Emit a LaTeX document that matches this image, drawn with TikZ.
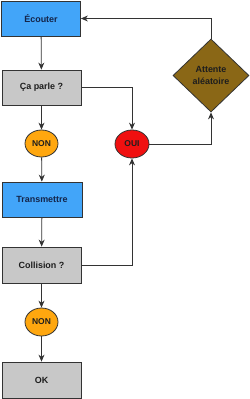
\documentclass[tikz,border=0pt]{standalone}
\usepackage{fontspec}
\setmainfont{Liberation Sans}
\usepackage{xcolor}
\usepackage{tikz}
\usetikzlibrary{arrows.meta,shapes.geometric}
\definecolor{lineC}{HTML}{333333}
\definecolor{boxBlue}{HTML}{42A5F9}
\definecolor{boxGrey}{HTML}{C8C8C8}
\definecolor{ovalOr}{HTML}{FFA70F}
\definecolor{ovalRed}{HTML}{F01010}
\definecolor{waitBr}{HTML}{8A6716}
\definecolor{txtNavy}{HTML}{14254A}
\definecolor{txtDark}{HTML}{1E1E1E}

\begin{document}
\begin{tikzpicture}[x=1bp,y=-1bp,>={Stealth[length=7bp,width=6bp]},
  box/.style={draw=lineC,line width=0.8bp,rectangle,inner sep=0pt,minimum width=79bp,minimum height=35bp,font=\bfseries\fontsize{9}{10}\selectfont},
  bluebox/.style={box,fill=boxBlue,text=txtNavy},
  greybox/.style={box,fill=boxGrey,text=txtDark},
  oval/.style={draw=lineC,line width=0.8bp,ellipse,inner sep=0pt,minimum width=33bp,minimum height=27bp,font=\bfseries\fontsize{8.5}{10}\selectfont,text=txtDark},
  link/.style={->,draw=lineC,line width=0.8bp}]
\useasboundingbox (0,0) rectangle (250,399);
\node[bluebox] (ecouter) at (41,18.5) {Écouter};
\node[greybox] (parle) at (41.5,87.5) {Ça parle ?};
\node[oval,fill=ovalOr] (non1) at (41.5,143.5) {NON};
\node[bluebox,minimum width=80bp] (transmettre) at (42,199.5) {Transmettre};
\node[greybox,minimum height=36bp] (collision) at (41.5,265) {Collision ?};
\node[oval,fill=ovalOr,minimum height=28bp] (non2) at (41.5,322) {NON};
\node[greybox,minimum height=36bp] (ok) at (41.5,380) {OK};
\node[oval,fill=ovalRed,minimum width=34bp,minimum height=28bp] (oui) at (132,144) {OUI};
\node[diamond,draw=lineC,line width=0.8bp,fill=waitBr,inner sep=0pt,minimum width=76bp,minimum height=73bp,align=center,text=txtDark,font=\bfseries\fontsize{9}{12}\selectfont] (attente) at (211,75.5) {Attente\\aléatoire};
% colonne de gauche
\draw[link] (ecouter) -- (parle);
\draw[link] (parle) -- (non1);
\draw[link] (non1) -- (transmettre);
\draw[link] (transmettre) -- (collision);
\draw[link] (collision) -- (non2);
\draw[link] (non2) -- (ok);
% branche OUI
\draw[link] (parle.east) -| (oui.north);
\draw[link] (collision.east) -| (oui.south);
\draw[link] (oui.east) -| (attente.south);
\draw[link] (attente.north) |- (ecouter.east);
\end{tikzpicture}
\end{document}
